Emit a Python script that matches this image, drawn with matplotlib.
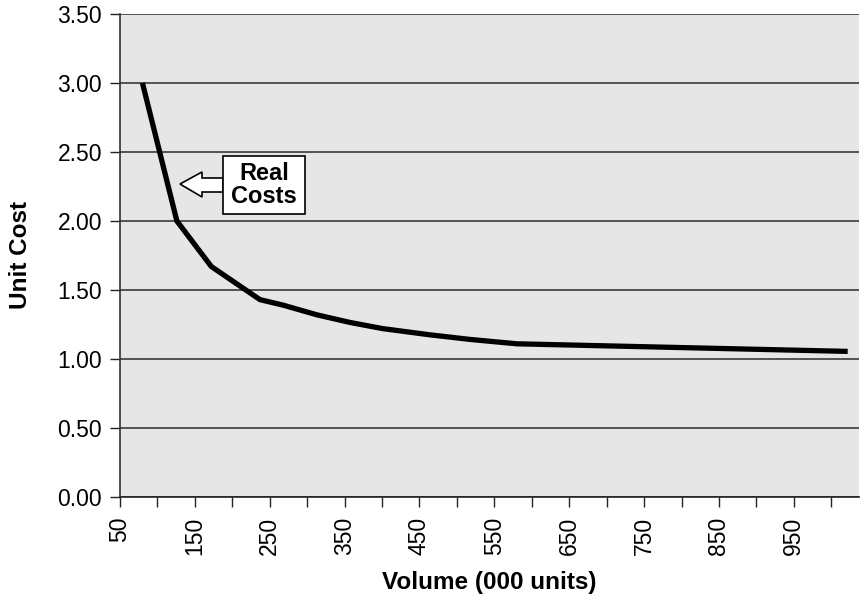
import matplotlib
matplotlib.use("Agg")
import matplotlib.pyplot as plt
from matplotlib.patches import Polygon, Rectangle

# volume (000 units) and unit cost
volume = [80, 126, 172, 237, 268, 313, 357, 401, 464, 517, 580, 1022]
unit_cost = [3.00, 2.00, 1.67, 1.43, 1.39, 1.32, 1.265, 1.22, 1.175, 1.142, 1.11, 1.055]

x_ticks = list(range(50, 1001, 50))
x_labels = [str(v) if (v - 50) % 100 == 0 else "" for v in x_ticks]
y_ticks = [0.0, 0.5, 1.0, 1.5, 2.0, 2.5, 3.0, 3.5]

plt.rcParams['font.family'] = ['Liberation Sans', 'DejaVu Sans']

fig = plt.figure(figsize=(8.65, 6.08), dpi=100)
ax = fig.add_axes([0.1387, 0.1826, 0.8543, 0.7944])
ax.set_facecolor('#e6e6e6')

ax.plot(volume, unit_cost, color='black', linewidth=3.8,
        solid_joinstyle='miter', solid_capstyle='butt', zorder=3)

ax.set_xlim(50, 1037)
ax.set_ylim(0, 3.5)
ax.set_xticks(x_ticks)
ax.set_xticklabels(x_labels, rotation=90, fontsize=16.5)
ax.set_yticks(y_ticks)
ax.set_yticklabels([f"{v:.2f}" for v in y_ticks], fontsize=16.5)
ax.tick_params(axis='both', direction='out', length=7, width=1, color='#222222', pad=6)
ax.tick_params(axis='x', pad=7)

ax.grid(axis='y', color='#3a3a3a', linewidth=1.2)
ax.set_axisbelow(True)
for side in ['top', 'right']:
    ax.spines[side].set_visible(False)
ax.spines['left'].set_color('#333333')
ax.spines['bottom'].set_color('#222222')
ax.spines['left'].set_linewidth(1.2)
ax.spines['bottom'].set_linewidth(1.2)

ax.set_xlabel('Volume (000 units)', fontsize=17.5, fontweight='bold', labelpad=12)
ax.set_ylabel('Unit Cost', fontsize=17.5, fontweight='bold', labelpad=18)

# callout: block arrow pointing at the steep part of the curve
H = fig.bbox.height
arrow_pts = [(180, 184), (202, 172), (202, 178), (223, 178),
             (223, 192), (202, 192), (202, 197)]
arrow = Polygon([(x, H - y) for x, y in arrow_pts], closed=True,
                facecolor='white', edgecolor='black', linewidth=1.2,
                transform=None, zorder=4)
fig.patches.append(arrow)
box = Rectangle((223, H - 214), 82, 58, facecolor='white', edgecolor='black',
                linewidth=1.2, transform=None, zorder=5)
fig.patches.append(box)
fig.text(264 / 865, 1 - 185 / 608, 'Real\nCosts', ha='center', va='center',
         fontsize=17, fontweight='bold', linespacing=1.0, zorder=6)

fig.savefig('out.png', dpi=100)
